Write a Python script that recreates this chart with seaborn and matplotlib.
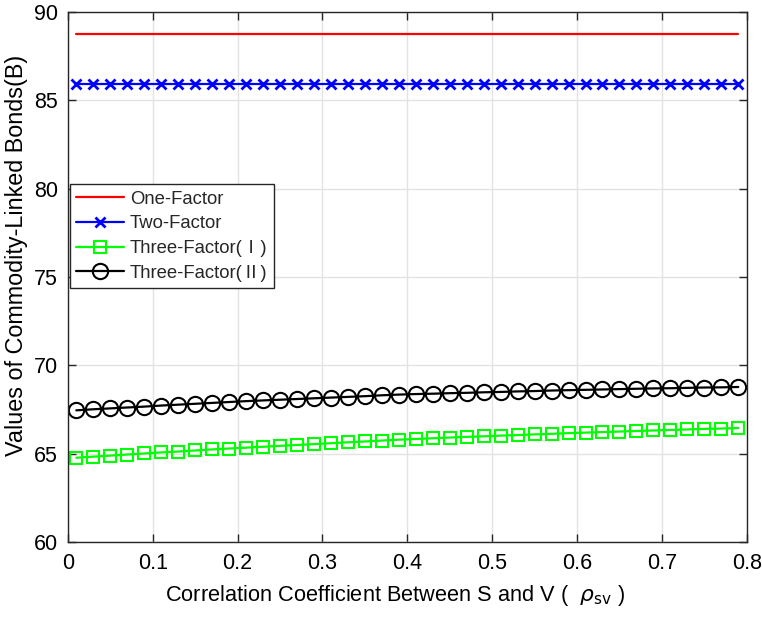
import numpy as np
import pandas as pd
import matplotlib
matplotlib.use("Agg")
import matplotlib.pyplot as plt
import seaborn as sns

# ---- data ----
rho = [0.01, 0.03, 0.05, 0.07, 0.09, 0.11, 0.13, 0.15, 0.17, 0.19,
       0.21, 0.23, 0.25, 0.27, 0.29, 0.31, 0.33, 0.35, 0.37, 0.39,
       0.41, 0.43, 0.45, 0.47, 0.49, 0.51, 0.53, 0.55, 0.57, 0.59,
       0.61, 0.63, 0.65, 0.67, 0.69, 0.71, 0.73, 0.75, 0.77, 0.79]
one_factor = [88.74] * 40
two_factor = [85.91] * 40
three_factor_1 = [64.78, 64.84, 64.90, 64.96, 65.02, 65.08, 65.13, 65.19, 65.25, 65.30,
                  65.35, 65.40, 65.45, 65.50, 65.55, 65.60, 65.65, 65.70, 65.75, 65.80,
                  65.84, 65.88, 65.92, 65.96, 65.99, 66.03, 66.06, 66.10, 66.13, 66.17,
                  66.20, 66.23, 66.26, 66.29, 66.32, 66.35, 66.38, 66.41, 66.43, 66.46]
three_factor_2 = [67.46, 67.52, 67.57, 67.62, 67.67, 67.73, 67.78, 67.83, 67.88, 67.93,
                  67.98, 68.02, 68.06, 68.10, 68.14, 68.18, 68.22, 68.26, 68.31, 68.35,
                  68.38, 68.40, 68.43, 68.45, 68.48, 68.50, 68.53, 68.55, 68.58, 68.60,
                  68.62, 68.64, 68.66, 68.68, 68.70, 68.71, 68.73, 68.75, 68.76, 68.78]
labels = ["One-Factor", "Two-Factor", "Three-Factor(Ⅰ)", "Three-Factor(Ⅱ)"]
xticks = [0, 0.1, 0.2, 0.3, 0.4, 0.5, 0.6, 0.7, 0.8]
yticks = [60, 65, 70, 75, 80, 85, 90]

sns.set_theme(style="whitegrid")
plt.rcParams['font.family'] = ['Liberation Sans', 'Noto Sans CJK SC', 'DejaVu Sans']
plt.rcParams['mathtext.fontset'] = 'dejavusans'

fig = plt.figure(figsize=(7.62, 6.19), dpi=100)
ax = fig.add_axes([0.089, 0.124, 0.891, 0.857])

df = pd.DataFrame({"rho": rho, "one": one_factor, "two": two_factor,
                   "t1": three_factor_1, "t2": three_factor_2})

sns.lineplot(data=df, x="rho", y="one", ax=ax, color="#ff0000", lw=1.6,
             label=labels[0])
sns.lineplot(data=df, x="rho", y="two", ax=ax, color="#0000ff", lw=1.6,
             marker="x", markersize=7, markeredgewidth=2,
             markeredgecolor="#0000ff", label=labels[1])
sns.lineplot(data=df, x="rho", y="t1", ax=ax, color="#00ff00", lw=1.6,
             marker="s", markersize=8, markerfacecolor="none",
             markeredgecolor="#00ff00", markeredgewidth=1.5, label=labels[2])
sns.lineplot(data=df, x="rho", y="t2", ax=ax, color="black", lw=1.6,
             marker="o", markersize=11, markerfacecolor="none",
             markeredgecolor="black", markeredgewidth=1.5, label=labels[3])

ax.set_xlim(0, 0.8)
ax.set_ylim(60, 90)
ax.set_xticks(xticks)
ax.set_xticklabels([f"{t:g}" for t in xticks])
ax.set_yticks(yticks)
ax.set_facecolor("white")
ax.grid(True, color="#e3e3e3", lw=1)
for s in ax.spines.values():
    s.set_visible(True)
    s.set_color("#262626")
    s.set_linewidth(1)
ax.tick_params(axis="both", direction="in", length=6, width=1, color="#262626",
               labelsize=15.5, labelcolor="black", top=True, right=True,
               bottom=True, left=True)
ax.tick_params(axis="x", pad=8)
ax.tick_params(axis="y", pad=7)

ax.set_xlabel(r"Correlation Coefficient Between S and V (  $\rho_{\mathrm{sv}}$ )",
              fontsize=15.7, color="black")
ax.xaxis.set_label_coords(0.482, -0.077)
ax.set_ylabel("Values of Commodity-Linked Bonds(B)", fontsize=16.8, color="black")
ax.yaxis.set_label_coords(-0.059, 0.54)

leg = ax.legend(loc="upper left", bbox_to_anchor=(0.003, 0.675), fontsize=13.3,
                frameon=True, fancybox=False, framealpha=1, edgecolor="#262626",
                handlelength=2.6, borderpad=0.35, labelspacing=0.42,
                handletextpad=0.3, borderaxespad=0)
leg.get_frame().set_linewidth(1)

fig.savefig("out.png", dpi=100)
